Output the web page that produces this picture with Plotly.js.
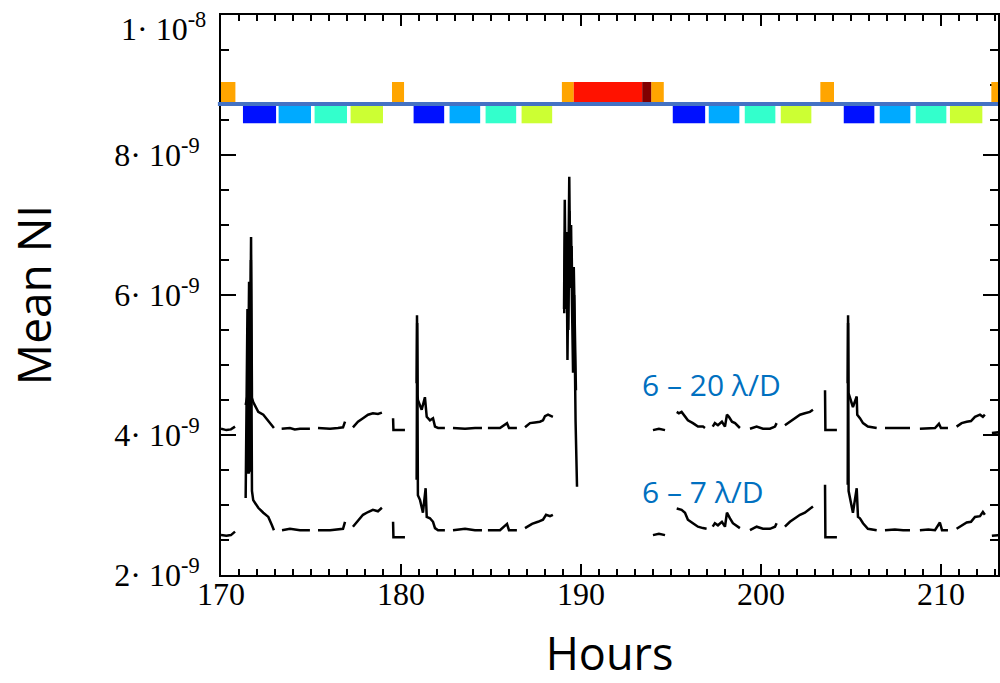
<!DOCTYPE html>
<html>
<head>
<meta charset="utf-8">
<script src="https://cdn.plot.ly/plotly-3.0.1.min.js"></script>
<style>html,body{margin:0;padding:0;background:#fff;}</style>
</head>
<body>
<div id="chart" style="width:1000px;height:683px;"></div>
<script>
// ---- Data (Mean NI in units of 1e-9, time in hours) ----
const PER = 1e9; // values below are in units of 1e-9

const hours20 = [
 170.0,170.3,170.55,170.78,null,
 171.37,171.5,171.56,171.61,171.67,171.72,171.79,172.07,172.35,172.63,172.82,172.94,null,
 173.37,173.83,174.1,174.39,174.94,null,
 175.39,176.06,176.5,176.78,176.89,null,
 177.33,177.61,177.89,178.17,178.44,178.72,178.94,null,
 179.56,179.58,180.22,null,
 180.87,180.89,180.92,180.94,181.15,181.33,181.43,181.61,181.78,181.89,182.06,182.44,null,
 182.89,183.56,184.11,184.5,null,
 184.83,185.5,185.89,186.0,186.44,null,
 186.89,187.17,187.44,187.72,187.89,188.0,188.17,188.44,null,
 189.06,189.1,189.15,189.2,189.25,189.3,189.35,189.4,189.45,189.5,189.56,189.6,189.66,189.72,null,
 194.0,194.33,194.67,null,
 195.32,195.44,195.59,195.78,195.94,196.22,196.5,196.78,196.89,null,
 197.32,197.44,197.61,197.83,198.0,198.11,198.22,198.39,198.56,198.83,null,
 199.39,199.76,200.11,200.5,200.78,200.87,null,
 201.33,201.61,201.89,202.17,202.44,202.72,202.89,null,
 203.56,203.58,204.22,null,
 204.82,204.84,204.86,204.94,205.11,205.32,205.35,205.5,205.67,205.94,206.43,null,
 206.89,207.44,207.9,208.28,null,
 208.83,209.3,209.67,209.89,210.0,210.39,null,
 210.87,211.15,211.43,211.67,211.89,212.17,212.33,212.44,null,
 212.83,213.28
];
const ni20 = [
 4.09,4.07,4.08,4.12,null,
 4.43,4.60,6.19,4.50,6.83,4.53,4.47,4.33,4.29,4.21,4.14,4.10,null,
 4.09,4.10,4.08,4.09,4.09,null,
 4.10,4.09,4.10,4.11,4.19,null,
 4.11,4.19,4.24,4.29,4.31,4.30,4.32,null,
 4.24,4.07,4.07,null,
 4.74,5.71,4.57,4.50,4.36,4.54,4.26,4.21,4.24,4.12,4.10,4.10,null,
 4.10,4.09,4.10,4.10,null,
 4.10,4.10,4.17,4.10,4.10,null,
 4.11,4.17,4.18,4.19,4.21,4.27,4.29,4.26,null,
 5.80,7.36,6.00,6.90,5.07,6.80,7.69,6.30,7.00,5.90,4.89,6.40,5.60,4.64,null,
 4.07,4.09,4.07,null,
 4.33,4.31,4.33,4.26,4.21,4.17,4.12,4.12,4.10,null,
 4.12,4.17,4.14,4.19,4.12,4.29,4.26,4.19,4.17,4.10,null,
 4.09,4.12,4.09,4.09,4.12,4.17,null,
 4.14,4.19,4.24,4.29,4.31,4.33,4.36,null,
 4.64,4.07,4.07,null,
 4.74,5.71,4.60,4.54,4.40,4.55,4.29,4.24,4.17,4.12,4.10,null,
 4.10,4.10,4.09,4.10,null,
 4.09,4.10,4.10,4.16,4.10,4.10,null,
 4.12,4.17,4.19,4.20,4.26,4.29,4.26,4.29,null,
 4.03,4.04
];

const hours7 = [
 170.0,170.3,170.55,170.78,null,
 171.37,171.47,171.52,171.6,171.66,171.72,171.79,172.07,172.35,172.63,172.83,172.94,null,
 173.39,173.83,174.39,174.94,null,
 175.39,176.06,176.78,176.89,null,
 177.33,177.61,177.89,178.17,178.44,178.72,178.94,null,
 179.56,179.58,180.22,null,
 180.87,180.9,180.94,181.06,181.22,181.37,181.43,181.61,181.78,181.89,182.06,182.44,null,
 182.89,183.56,184.11,184.5,null,
 184.83,185.5,185.89,186.0,186.44,null,
 186.89,187.28,187.61,187.89,188.06,188.28,188.44,null,
 189.07,189.12,189.18,189.24,189.3,189.36,189.42,189.48,189.54,189.62,189.7,189.78,null,
 194.0,194.33,194.67,null,
 195.32,195.59,195.78,195.94,196.22,196.5,196.78,196.98,null,
 197.32,197.44,197.61,197.83,198.0,198.11,198.28,198.44,198.83,null,
 199.39,199.76,200.11,200.5,200.78,200.87,null,
 201.33,201.61,201.89,202.17,202.44,202.72,202.89,null,
 203.56,203.58,204.22,null,
 204.82,204.84,204.87,204.94,205.11,205.32,205.39,205.5,205.67,205.94,206.43,null,
 206.89,207.44,207.9,208.28,null,
 208.83,209.3,209.67,209.94,210.06,210.39,null,
 210.87,211.15,211.43,211.67,211.89,212.17,212.33,212.44,null,
 212.83,213.28
];
const ni7 = [
 2.57,2.56,2.57,2.62,null,
 3.10,5.80,3.45,3.50,6.50,3.20,3.07,2.96,2.89,2.83,2.71,2.64,null,
 2.64,2.66,2.64,2.64,null,
 2.64,2.64,2.66,2.76,null,
 2.69,2.77,2.86,2.90,2.93,2.91,2.96,null,
 2.76,2.54,2.54,null,
 3.36,5.60,3.14,3.07,2.89,3.24,2.83,2.81,2.76,2.67,2.64,2.64,null,
 2.64,2.66,2.64,2.64,null,
 2.64,2.64,2.73,2.64,2.64,null,
 2.67,2.73,2.76,2.79,2.86,2.84,2.86,null,
 5.74,6.90,5.80,6.60,5.50,7.20,6.10,6.70,5.60,6.00,4.20,3.26,null,
 2.57,2.59,2.57,null,
 2.95,2.93,2.89,2.79,2.74,2.69,2.67,2.66,null,
 2.69,2.74,2.71,2.76,2.69,2.89,2.81,2.74,2.67,null,
 2.64,2.69,2.66,2.66,2.69,2.74,null,
 2.69,2.76,2.81,2.86,2.89,2.95,2.98,null,
 3.29,2.54,2.54,null,
 3.29,5.60,3.20,3.11,2.89,3.24,2.83,2.81,2.74,2.66,2.64,null,
 2.64,2.65,2.64,2.64,null,
 2.64,2.65,2.64,2.75,2.64,2.64,null,
 2.66,2.71,2.75,2.76,2.83,2.84,2.90,2.86,null,
 2.56,2.57
];

// Observation-state bands (hours)
const orangeStart = [170.0, 179.5, 188.94, 193.9, 203.3, 212.8];
const orangeEnd   = [170.8, 180.17, 189.6, 194.6, 204.06, 213.5];
const redStart = [189.6];  const redEnd = [193.4];
const darkRedStart = [193.4]; const darkRedEnd = [193.9];
const filterStart = [171.22,173.2,175.2,177.2, 180.7,182.7,184.7,186.7, 195.1,197.1,199.1,201.1, 204.6,206.6,208.6,210.5];
const filterEnd   = [173.06,175.0,177.0,179.0, 182.4,184.4,186.4,188.4, 196.9,198.8,200.8,202.8, 206.3,208.3,210.3,212.3];
const filterColors = ['rgb(0,16,255)','rgb(0,170,255)','rgb(51,255,204)','rgb(204,255,51)'];

const yTickVals = [2, 4, 6, 8, 10];
const yTickText = ['2· 10<sup>-9</sup>','4· 10<sup>-9</sup>','6· 10<sup>-9</sup>','8· 10<sup>-9</sup>',''];
const yTopLabel = '1· 10<sup>-8</sup>';
const xTickVals = [170, 180, 190, 200, 210];

const labels = [
  {text: '6 – 20 λ/D', x: 193.28, y: 4.72},
  {text: '6 – 7 λ/D',  x: 193.28, y: 3.19}
];

// ---- Build ----
const sc = a => a.map(v => v === null ? null : v / PER);

const traces = [
  {x: hours20, y: sc(ni20), mode: 'lines', line: {color: 'black', width: 2.5}, connectgaps: false, name: '6 – 20 λ/D', hoverinfo: 'x+y'},
  {x: hours7,  y: sc(ni7),  mode: 'lines', line: {color: 'black', width: 2.5}, connectgaps: false, name: '6 – 7 λ/D', hoverinfo: 'x+y'}
];

const shapes = [];
const upTop = 9.043 / PER, upBot = 8.757 / PER;
const loTop = 8.70 / PER, loBot = 8.453 / PER;
function rect(x0, x1, y0, y1, color) {
  shapes.push({type: 'rect', xref: 'x', yref: 'y', x0: x0, x1: x1, y0: y0, y1: y1,
               fillcolor: color, line: {width: 0}, layer: 'above'});
}
orangeStart.forEach((s, i) => rect(s, orangeEnd[i], upBot, upTop, 'rgb(255,165,0)'));
redStart.forEach((s, i) => rect(s, redEnd[i], upBot, upTop, 'rgb(255,18,0)'));
darkRedStart.forEach((s, i) => rect(s, darkRedEnd[i], upBot, upTop, 'rgb(128,0,0)'));
filterStart.forEach((s, i) => rect(s, filterEnd[i], loBot, loTop, filterColors[i % 4]));
shapes.push({type: 'line', xref: 'paper', yref: 'y', x0: -0.004, x1: 1, y0: 8.729 / PER, y1: 8.729 / PER,
             line: {color: 'rgb(68,114,196)', width: 4}, layer: 'above'});

const annotations = labels.map(l => ({
  text: l.text, x: l.x, y: l.y / PER, xref: 'x', yref: 'y', xanchor: 'left', yanchor: 'middle',
  showarrow: false, font: {family: 'Open Sans', size: 30, color: 'rgb(0,112,192)'}
}));
// top y tick label, nudged down so it stays inside the page (as in the reference)
annotations.push({
  text: yTopLabel, x: 0, xref: 'paper', xanchor: 'right', xshift: -13,
  y: yTickVals[4] / PER, yref: 'y', yanchor: 'middle', yshift: -12,
  showarrow: false, font: {family: 'Liberation Serif', size: 32, color: 'black'}
});

const layout = {
  width: 1000, height: 683,
  margin: {l: 221, r: 2, t: 15, b: 108},
  paper_bgcolor: 'white', plot_bgcolor: 'white',
  showlegend: false,
  xaxis: {
    range: [170, 213.17], tickvals: xTickVals, ticktext: xTickVals.map(String),
    ticks: 'inside', ticklen: 11, tickwidth: 2, tickcolor: 'black',
    showline: true, linewidth: 2, linecolor: 'black', mirror: 'ticks',
    minor: {dtick: 1, tick0: 170, ticks: 'inside', ticklen: 6, tickwidth: 1.5, tickcolor: 'black'},
    showgrid: false, zeroline: false,
    tickfont: {family: 'Liberation Serif', size: 32, color: 'black'},
    ticklabelstandoff: -10,
    title: {text: 'Hours', font: {family: 'Open Sans', size: 45, color: 'black'}, standoff: 42}
  },
  yaxis: {
    range: [2 / PER, 10 / PER], tickvals: sc(yTickVals), ticktext: yTickText,
    ticks: 'inside', ticklen: 15, tickwidth: 2, tickcolor: 'black',
    showline: true, linewidth: 2, linecolor: 'black', mirror: 'ticks',
    minor: {dtick: 0.5 / PER, tick0: 0, ticks: 'inside', ticklen: 8, tickwidth: 1.5, tickcolor: 'black'},
    showgrid: false, zeroline: false,
    tickfont: {family: 'Liberation Serif', size: 32, color: 'black'},
    ticklabelstandoff: 13,
    title: {text: 'Mean NI', font: {family: 'Open Sans', size: 46, color: 'black'}, standoff: 48}
  },
  shapes: shapes,
  annotations: annotations
};

Plotly.newPlot('chart', traces, layout, {displayModeBar: false, staticPlot: true});
</script>
</body>
</html>
